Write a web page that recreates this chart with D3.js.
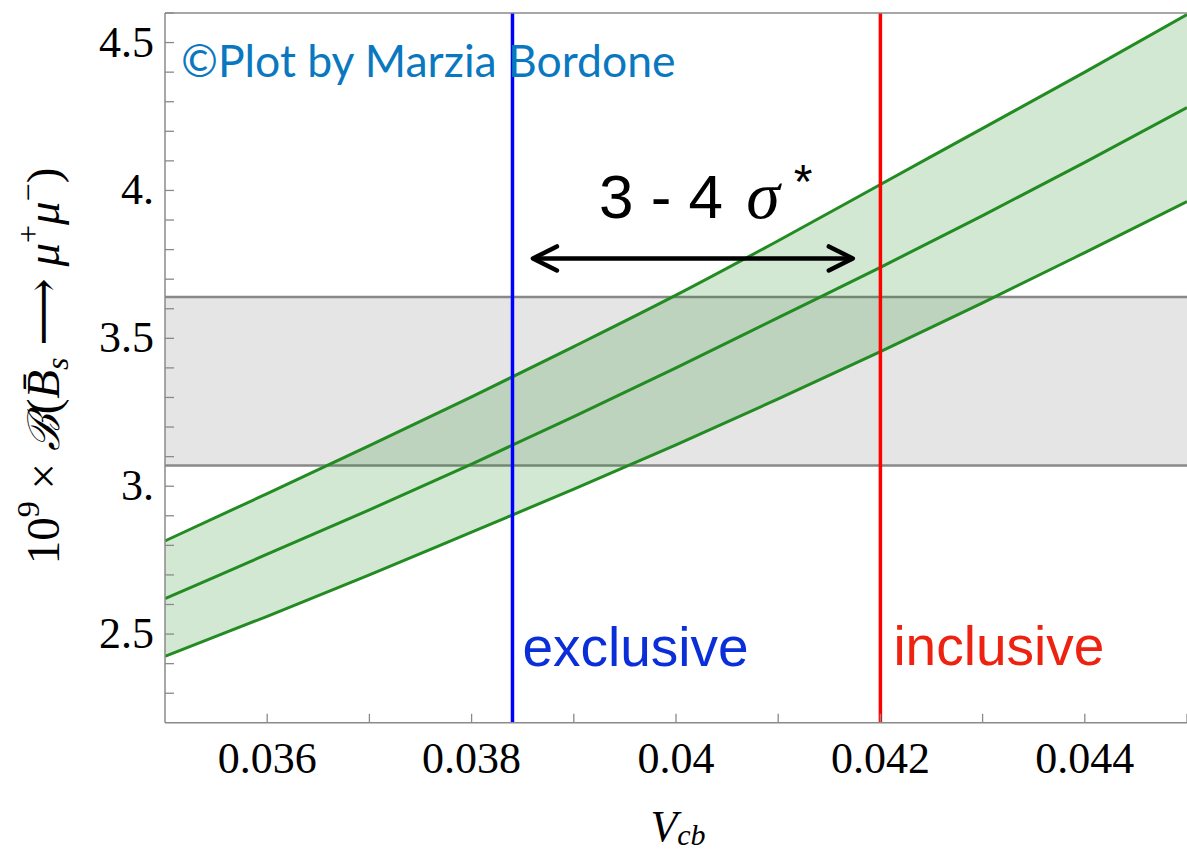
<!DOCTYPE html>
<html>
<head>
<meta charset="utf-8">
<script src="https://cdn.jsdelivr.net/npm/d3@7"></script>
<style>
  body { margin: 0; background: #fff; }
  svg { display: block; }
</style>
</head>
<body>
<svg width="1187" height="853"></svg>
<script>
// Vcb sample points and the read-off band (x 1e-3 steps)
const vcb = [0.035, 0.036, 0.037, 0.038, 0.039, 0.040, 0.041, 0.042, 0.043, 0.044, 0.045]
const brCentral = [2.62, 2.77, 2.92, 3.075, 3.235, 3.40, 3.57, 3.74, 3.915, 4.095, 4.28]
const brUpper = [2.815, 2.975, 3.137, 3.302, 3.472, 3.646, 3.83, 4.02, 4.21, 4.40, 4.595]
const brLower = [2.425, 2.56, 2.70, 2.845, 2.99, 3.14, 3.295, 3.455, 3.62, 3.79, 3.962]

// measured branching ratio band
const measured = [3.07, 3.64]
// exclusive / inclusive Vcb
const vcbExclusive = 0.0384
const vcbInclusive = 0.042
// arrow span
const arrowSpan = [0.0386, 0.04173]
const arrowY = 3.77

const xTicks = [0.036, 0.038, 0.040, 0.042, 0.044]
const xTickLabels = ['0.036', '0.038', '0.04', '0.042', '0.044']
const yTicks = [2.5, 3.0, 3.5, 4.0, 4.5]
const yTickLabels = ['2.5', '3.', '3.5', '4.', '4.5']

const svg = d3.select('svg')
const mLeft = 165, mRight = 1187, mTop = 13, mBottom = 722.8

const x = d3.scaleLinear().domain([0.035, 0.045]).range([mLeft, mRight])
const y = d3.scaleLinear().domain([2.2, 4.6]).range([mBottom, mTop])

svg.append('clipPath').attr('id', 'clip')
  .append('rect')
  .attr('x', mLeft).attr('y', mTop)
  .attr('width', mRight - mLeft).attr('height', mBottom - mTop)

const plot = svg.append('g').attr('clip-path', 'url(#clip)')

// gray measured band
plot.append('rect')
  .attr('x', mLeft).attr('width', mRight - mLeft)
  .attr('y', y(measured[1]))
  .attr('height', y(measured[0]) - y(measured[1]))
  .attr('fill', '#e5e5e5')
measured.forEach(v => {
  plot.append('line')
    .attr('x1', mLeft).attr('x2', mRight)
    .attr('y1', y(v)).attr('y2', y(v))
    .attr('stroke', '#888').attr('stroke-width', 2.5)
})

// green band
const rows = vcb.map((v, i) => ({ v, lo: brLower[i], c: brCentral[i], hi: brUpper[i] }))
const area = d3.area()
  .x(d => x(d.v))
  .y0(d => y(d.lo))
  .y1(d => y(d.hi))
  .curve(d3.curveMonotoneX)
plot.append('path')
  .datum(rows)
  .attr('d', area)
  .attr('fill', '#228b22')
  .attr('fill-opacity', 0.2)

const lineOf = key => d3.line()
  .x(d => x(d.v))
  .y(d => y(d[key]))
  .curve(d3.curveMonotoneX)
;['lo', 'c', 'hi'].forEach(key => {
  plot.append('path')
    .datum(rows)
    .attr('d', lineOf(key))
    .attr('fill', 'none')
    .attr('stroke', '#228b22')
    .attr('stroke-width', 3)
})

// vertical Vcb lines
plot.append('line')
  .attr('x1', x(vcbExclusive)).attr('x2', x(vcbExclusive))
  .attr('y1', mTop).attr('y2', mBottom)
  .attr('stroke', '#0000ff').attr('stroke-width', 3.5)
plot.append('line')
  .attr('x1', x(vcbInclusive)).attr('x2', x(vcbInclusive))
  .attr('y1', mTop).attr('y2', mBottom)
  .attr('stroke', '#ff0000').attr('stroke-width', 3.5)

// frame
const frame = svg.append('g').attr('stroke', '#8a8a8a').attr('fill', 'none')
frame.append('line').attr('x1', mLeft).attr('x2', mRight).attr('y1', mTop).attr('y2', mTop).attr('stroke-width', 1.5)
frame.append('line').attr('x1', mLeft).attr('x2', mLeft).attr('y1', mTop).attr('y2', mBottom).attr('stroke-width', 1.5)
frame.append('line').attr('x1', mLeft).attr('x2', mRight).attr('y1', mBottom).attr('y2', mBottom).attr('stroke-width', 1.5)

// ticks (inward)
const xMinor = d3.range(36, 46).map(d => d / 1000)
const yMinor = d3.range(23, 47).map(d => d / 10)
frame.selectAll('.xt').data(xMinor).join('line')
  .attr('x1', d => x(d)).attr('x2', d => x(d))
  .attr('y1', mBottom).attr('y2', mBottom - 9)
  .attr('stroke-width', 1.3)
frame.selectAll('.yt').data(yMinor).join('line')
  .attr('x1', mLeft).attr('x2', mLeft + 9)
  .attr('y1', d => y(d)).attr('y2', d => y(d))
  .attr('stroke-width', 1.3)

const serif = '"Liberation Serif", "DejaVu Serif", serif'
svg.append('g').selectAll('text').data(xTicks).join('text')
  .attr('x', d => x(d)).attr('y', 773)
  .attr('text-anchor', 'middle')
  .attr('font-family', serif).attr('font-size', 44)
  .text((d, i) => xTickLabels[i])
svg.append('g').selectAll('text').data(yTicks).join('text')
  .attr('x', 154).attr('y', d => y(d) + 14)
  .attr('text-anchor', 'end')
  .attr('font-family', serif).attr('font-size', 44)
  .text((d, i) => yTickLabels[i])

// axis titles
const xt = svg.append('text')
  .attr('x', 678).attr('y', 841)
  .attr('text-anchor', 'middle')
  .attr('font-family', serif).attr('font-size', 44).attr('font-style', 'italic')
xt.append('tspan').text('V')
xt.append('tspan').attr('font-size', 30).attr('dy', 4).text('cb')

const yt = svg.append('text')
  .attr('transform', 'translate(59,366) rotate(-90)')
  .attr('text-anchor', 'middle')
  .attr('font-family', serif).attr('font-size', 47)
yt.append('tspan').text('10')
yt.append('tspan').attr('font-size', 32).attr('dy', -20).text('9')
yt.append('tspan').attr('dy', 20).text(' × ')
yt.append('tspan').attr('font-style', 'italic').attr('font-family', '"DejaVu Serif", serif').attr('font-size', 44).text('ℬ')
yt.append('tspan').text('(')
yt.append('tspan').attr('font-style', 'italic').text('B\u0304')
yt.append('tspan').attr('font-style', 'italic').attr('font-size', 32).attr('dy', 9).text('s')
yt.append('tspan').attr('dy', -9).text(' ⟶ ')
yt.append('tspan').attr('font-style', 'italic').text('μ')
yt.append('tspan').attr('font-size', 32).attr('dy', -20).text('+')
yt.append('tspan').attr('font-style', 'italic').attr('dy', 20).text('μ')
yt.append('tspan').attr('font-size', 32).attr('dy', -20).text('−')
yt.append('tspan').attr('dy', 20).text(')')

// annotations
const sans = '"Liberation Sans", Arial, sans-serif'
svg.append('text')
  .attr('x', x(vcbExclusive) + 10).attr('y', 666)
  .attr('font-family', sans).attr('font-size', 55)
  .attr('fill', '#0a2ed8')
  .text('exclusive')
svg.append('text')
  .attr('x', x(vcbInclusive) + 13).attr('y', 665)
  .attr('font-family', sans).attr('font-size', 55)
  .attr('fill', '#ee2211')
  .text('inclusive')

const sig = svg.append('text')
  .attr('x', 599).attr('y', 218)
  .attr('font-family', sans).attr('font-size', 62)
  .attr('fill', '#000')
sig.append('tspan').text('3 - 4 ')
sig.append('tspan').attr('font-family', serif).attr('font-style', 'italic').attr('font-size', 68).attr('dx', 6).text('σ')
sig.append('tspan').attr('font-size', 48).attr('dx', 14).attr('dy', -20).text('*')

// double arrow
const ay = y(arrowY)
const ax0 = x(arrowSpan[0]), ax1 = x(arrowSpan[1])
const arrow = svg.append('g').attr('stroke', '#000').attr('stroke-width', 4.5)
  .attr('fill', 'none').attr('stroke-linecap', 'round').attr('stroke-linejoin', 'round')
arrow.append('line').attr('x1', ax0 + 2).attr('x2', ax1 - 2).attr('y1', ay).attr('y2', ay)
arrow.append('path').attr('d', `M${ax0 + 24},${ay - 12} L${ax0},${ay} L${ax0 + 24},${ay + 12}`)
arrow.append('path').attr('d', `M${ax1 - 24},${ay - 12} L${ax1},${ay} L${ax1 - 24},${ay + 12}`)

// credit
svg.append('text')
  .attr('x', 181).attr('y', 77)
  .attr('font-family', 'Lato, "Open Sans", sans-serif').attr('font-size', 44.5)
  .attr('fill', '#0a78c0')
  .text('©Plot by Marzia Bordone')
</script>
</body>
</html>
